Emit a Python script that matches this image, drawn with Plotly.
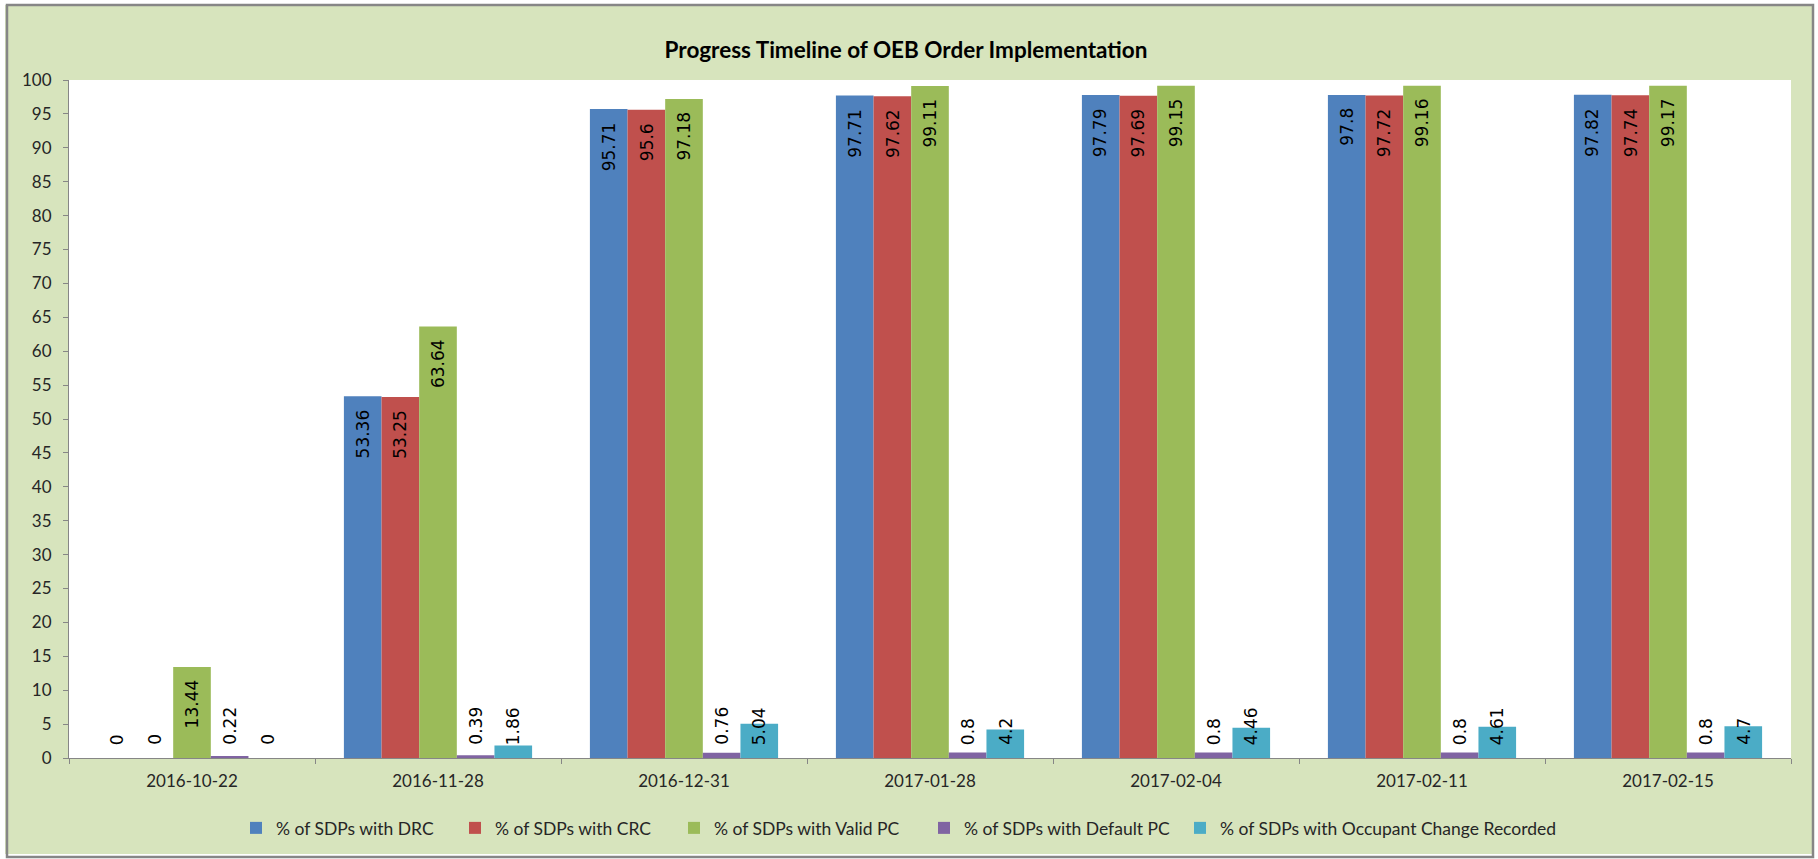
import plotly.graph_objects as go

# ---------------- data ----------------
dates = ["2016-10-22", "2016-11-28", "2016-12-31", "2017-01-28",
         "2017-02-04", "2017-02-11", "2017-02-15"]
drc = [0, 53.36, 95.71, 97.71, 97.79, 97.8, 97.82]
crc = [0, 53.25, 95.6, 97.62, 97.69, 97.72, 97.74]
valid_pc = [13.44, 63.64, 97.18, 99.11, 99.15, 99.16, 99.17]
default_pc = [0.22, 0.39, 0.76, 0.8, 0.8, 0.8, 0.8]
occupant = [0, 1.86, 5.04, 4.2, 4.46, 4.61, 4.7]

series_names = ["% of SDPs with DRC", "% of SDPs with CRC", "% of SDPs with Valid PC",
                "% of SDPs with Default PC", "% of SDPs with Occupant Change Recorded"]
series_values = [drc, crc, valid_pc, default_pc, occupant]
colors = ["#4F81BD", "#C0504D", "#9BBB59", "#8064A2", "#4BACC6"]

title_text = "Progress Timeline of OEB Order Implementation"

# ---------------- layout constants ----------------
W, H = 1818, 859
L, R, T, B = 69, 27, 80, 101
PW, PH = W - L - R, H - T - B
BARGAP = 0.235
LABEL_FONT = dict(family="DejaVu Sans", size=17, color="black")
TICK_FONT = dict(family="Lato", size=17, color="#262626")
GREEN_BG = "#D7E4BD"
AXIS_GREY = "#868686"
INSIDE_MIN = 10


def px_x(px):
    return (px - L) / PW


def px_y(py):
    return (H - B - py) / PH


legend_text_starts = [269, 488, 707, 957, 1213]

fig = go.Figure()
n = len(series_values)
slot = (1 - BARGAP) / n
annotations = []
for i, (name, vals, col) in enumerate(zip(series_names, series_values, colors)):
    lname = "legend" if i == 0 else f"legend{i + 1}"
    fig.add_trace(go.Bar(
        name=name, x=dates, y=vals, marker=dict(color=col, line=dict(width=0)),
        legend=lname, hoverinfo="skip",
    ))
    for j, v in enumerate(vals):
        inside = v >= INSIDE_MIN
        annotations.append(dict(
            x=j + (i - (n - 1) / 2) * slot, y=v if inside else 0, xref="x", yref="y",
            text=f"{v:g}", showarrow=False, textangle=-90,
            xanchor="center", yanchor="top" if inside else "bottom",
            yshift=-11 if inside else 11,
            font=LABEL_FONT,
        ))

legends = {}
for i, ts in enumerate(legend_text_starts):
    key = "legend" if i == 0 else f"legend{i + 1}"
    legends[key] = dict(
        orientation="h", x=px_x(ts - 33), y=px_y(828), xanchor="left", yanchor="middle",
        bgcolor="rgba(0,0,0,0)", font=dict(family="Lato", size=17.5, color="#262626"),
        itemwidth=30, borderwidth=0,
    )

shapes = [
    # white strip around the figure edge
    dict(type="rect", xref="paper", yref="paper",
         x0=px_x(0), x1=px_x(W), y0=px_y(H), y1=px_y(0),
         line=dict(color="white", width=10), fillcolor="rgba(0,0,0,0)", layer="above"),
    # grey chart border
    dict(type="rect", xref="paper", yref="paper",
         x0=px_x(7), x1=px_x(1813), y0=px_y(857), y1=px_y(5),
         line=dict(color=AXIS_GREY, width=2.5), fillcolor="rgba(0,0,0,0)", layer="above"),
]

fig.update_layout(
    width=W, height=H,
    margin=dict(l=L, r=R, t=T, b=B, pad=0),
    paper_bgcolor=GREEN_BG, plot_bgcolor="white",
    barmode="group", bargap=BARGAP, bargroupgap=0,
    title=dict(text=f"<b>{title_text}</b>", x=906 / W, xref="container", xanchor="center",
               y=1 - 50 / H, yref="container", yanchor="middle",
               font=dict(family="Lato", size=22.5, color="black")),
    xaxis=dict(type="category", showline=True, linecolor=AXIS_GREY, linewidth=1,
               ticks="outside", tickson="boundaries", ticklen=5, tickcolor=AXIS_GREY,
               showgrid=False, tickfont=TICK_FONT, ticklabelstandoff=8),
    yaxis=dict(range=[0, 100], dtick=5, showline=True, linecolor=AXIS_GREY, linewidth=1,
               ticks="outside", ticklen=5, tickcolor=AXIS_GREY, showgrid=False,
               zeroline=False, tickfont=TICK_FONT, ticklabelstandoff=8),
    annotations=annotations,
    shapes=shapes,
    showlegend=True,
    **legends,
)

fig.write_html("out.html", config={"displayModeBar": False},
               post_script="document.body.style.margin='0';")
